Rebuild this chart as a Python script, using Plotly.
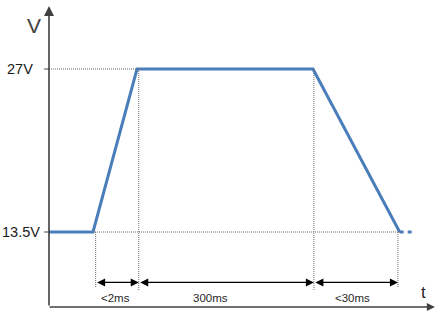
import plotly.graph_objects as go

# ---- data (schematic time units, volts) ----
wave_t = [0.0, 1.0, 2.0, 6.0, 7.97]
wave_v = [13.5, 13.5, 27.0, 27.0, 13.5]
tail_t = [7.97, 8.3]
tail_v = [13.5, 13.5]
level_v = [27.0, 13.5]
level_labels = ["27V", "13.5V"]
bound_t = [1.06, 2.04, 6.02, 7.93]
dim_labels = ["<2ms", "300ms", "<30ms"]

# ---- layout helpers ----
X_MIN, X_MAX = -1.1136, 8.909
Y_MIN, Y_MAX = 6.626, 32.715
AXIS_V = 7.288        # level of time axis
AXIS_TIP_T = 8.77
V_TIP = 32.22
ARROW_V = 9.32
DIM_LABEL_V = 8.03
DIM_LABEL_T = [1.52, 3.66, 6.89]
BOUND_BOTTOM = [8.945, 8.614, 8.614, 8.945]
LEVEL_LABEL_T = [-0.31, -0.15]

AX_COL = "#404040"
BLUE = "#4a7ebb"
DOT_COL = "#6b6b6b"
FONT = "Liberation Sans, Arial, sans-serif"

fig = go.Figure()

shapes = []
# dotted guides
shapes.append(dict(type="line", x0=0, x1=bound_t[1], y0=level_v[0], y1=level_v[0],
                   line=dict(color=DOT_COL, width=1, dash="1px,1px")))
shapes.append(dict(type="line", x0=wave_t[1], x1=bound_t[3] + 0.05, y0=level_v[1], y1=level_v[1],
                   line=dict(color=DOT_COL, width=1, dash="1px,1px")))
for i, t in enumerate(bound_t):
    top = level_v[0] if i in (1, 2) else level_v[1]
    shapes.append(dict(type="line", x0=t, x1=t, y0=top, y1=BOUND_BOTTOM[i],
                       line=dict(color=DOT_COL, width=1, dash="1px,1px")))
# tick marks
for v in level_v:
    shapes.append(dict(type="line", x0=-0.11, x1=0, y0=v, y1=v,
                       line=dict(color=AX_COL, width=1)))

fig.add_trace(go.Scatter(x=wave_t, y=wave_v, mode="lines",
                         line=dict(color=BLUE, width=3), hoverinfo="skip"))
fig.add_trace(go.Scatter(x=tail_t, y=tail_v, mode="lines",
                         line=dict(color=BLUE, width=3, dash="4px,4px"), hoverinfo="skip"))

ann = []
# axes with arrows
ann.append(dict(x=0, y=V_TIP, ax=0, ay=AXIS_V, xref="x", yref="y", axref="x", ayref="y",
                text="", showarrow=True, arrowhead=2, arrowsize=1.25, arrowwidth=1.6,
                arrowcolor=AX_COL, standoff=0, startstandoff=0))
ann.append(dict(x=AXIS_TIP_T, y=AXIS_V, ax=-0.02, ay=AXIS_V, xref="x", yref="y", axref="x", ayref="y",
                text="", showarrow=True, arrowhead=2, arrowsize=1.0, arrowwidth=1.6,
                arrowcolor=AX_COL, standoff=0, startstandoff=0))
# dimension arrows
for i in range(3):
    ann.append(dict(x=bound_t[i + 1], y=ARROW_V, ax=bound_t[i], ay=ARROW_V,
                    xref="x", yref="y", axref="x", ayref="y",
                    text="", showarrow=True, arrowhead=2, arrowsize=1.33, arrowwidth=1.2,
                    arrowside="end+start", arrowcolor="black", standoff=0, startstandoff=0))
    ann.append(dict(x=DIM_LABEL_T[i], y=DIM_LABEL_V, xref="x", yref="y", text=dim_labels[i],
                    showarrow=False, font=dict(family=FONT, size=11.5, color="#262626")))
# level labels
for v, lab, lt in zip(level_v, level_labels, LEVEL_LABEL_T):
    ann.append(dict(x=lt, y=v, xref="x", yref="y", text=lab, xanchor="right",
                    showarrow=False, font=dict(family=FONT, size=14.5, color="#1a1a1a")))
# axis titles
ann.append(dict(x=-0.34, y=30.6, xref="x", yref="y", text="V", showarrow=False,
                font=dict(family=FONT, size=21, color=AX_COL)))
ann.append(dict(x=8.5, y=8.53, xref="x", yref="y", text="t", showarrow=False,
                font=dict(family=FONT, size=17, color="#262626")))

fig.update_layout(
    width=441, height=315, margin=dict(l=0, r=0, t=0, b=0),
    paper_bgcolor="white", plot_bgcolor="white", showlegend=False,
    xaxis=dict(range=[X_MIN, X_MAX], visible=False, fixedrange=True),
    yaxis=dict(range=[Y_MIN, Y_MAX], visible=False, fixedrange=True),
    shapes=shapes, annotations=ann,
)

fig.write_html("out.html")
